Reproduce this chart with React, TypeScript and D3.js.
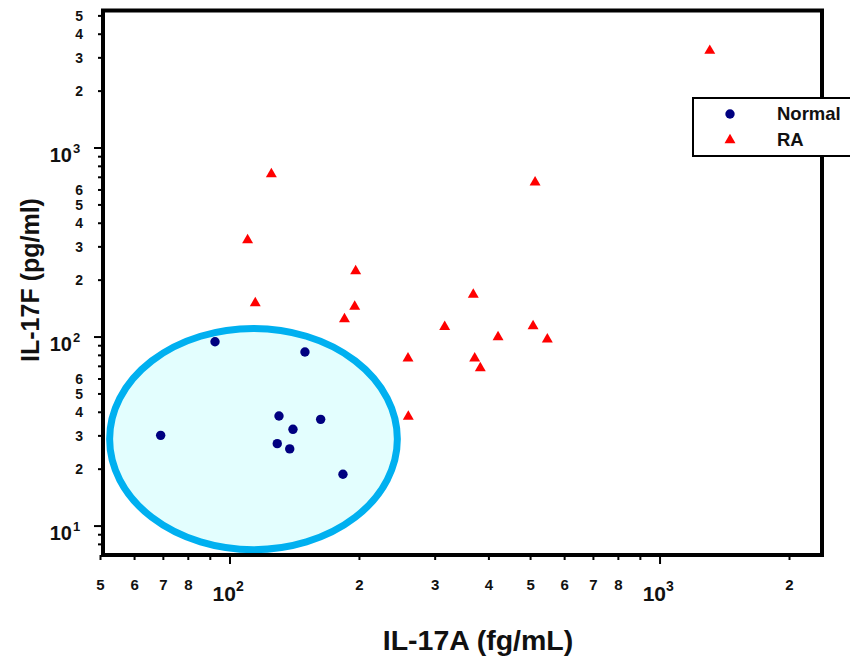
import React from "react";
import * as d3 from "d3";

const normalX = [69.0, 92.3, 149.4, 130.0, 162.5, 140.1, 128.8, 137.7, 183.1];
const normalY = [30.2, 94.4, 83.3, 38.2, 36.7, 32.5, 27.3, 25.6, 18.8];

const raX = [1305, 124.8, 512.2, 109.9, 196.0, 114.5, 195.0, 367.9, 184.6, 315.7, 506.7, 420.1, 546.9, 259.4, 370.7, 382.0, 259.8];
const raY = [3272, 728.7, 658.5, 326, 223.5, 151.3, 145, 167.9, 124.5, 113.4, 114.3, 100, 97.2, 77.2, 77.2, 68.5, 38.0];

const xMinorTicks = [50, 60, 70, 80, 90, 200, 300, 400, 500, 600, 700, 800, 900, 2000];
const xMinorLabels = ["5", "6", "7", "8", "", "2", "3", "4", "5", "6", "7", "8", "", "2"];
const xMajorTicks = [100, 1000];
const xMajorExp = ["2", "3"];

const yMinorTicks = [8, 9, 20, 30, 40, 50, 60, 70, 80, 90, 200, 300, 400, 500, 600, 700, 800, 900, 2000, 3000, 4000, 5000];
const yMinorLabels = ["", "", "2", "3", "4", "5", "6", "", "", "", "2", "3", "4", "5", "6", "", "", "", "2", "3", "4", "5"];
const yMajorTicks = [10, 100, 1000];
const yMajorExp = ["1", "2", "3"];

const ellipseBounds = { x0: 52.5, x1: 245, y0: 7.5, y1: 111 };

const X_DOMAIN = [50.4, 2380];
const Y_DOMAIN = [7.03, 5340];

const FONT = "'Liberation Sans', Arial, Helvetica, sans-serif";

export default function App() {
  const left = 102, right = 822, top = 10.5, bottom = 555;
  const x = d3.scaleLog().domain(X_DOMAIN).range([left, right]);
  const y = d3.scaleLog().domain(Y_DOMAIN).range([bottom, top]);
  const tri = d3.symbol().type(d3.symbolTriangle).size(52)() as string;

  const ex0 = x(ellipseBounds.x0), ex1 = x(ellipseBounds.x1);
  const ey0 = y(ellipseBounds.y0), ey1 = y(ellipseBounds.y1);

  return (
    <svg width={850} height={657} style={{ position: "absolute", left: 0, top: 0, background: "#fff" }} fontFamily={FONT}>
      <rect x={0} y={0} width={850} height={657} fill="#fff" />
      <ellipse
        cx={(ex0 + ex1) / 2}
        cy={(ey0 + ey1) / 2}
        rx={Math.abs(ex1 - ex0) / 2}
        ry={Math.abs(ey0 - ey1) / 2}
        fill="#E3FEFE"
        stroke="#00B0F0"
        strokeWidth={7}
      />
      {raX.map((v, i) => (
        <path key={"ra" + i} d={tri} transform={`translate(${x(v)},${y(raY[i])})`} fill="#FF0000" />
      ))}
      {normalX.map((v, i) => (
        <circle key={"n" + i} cx={x(v)} cy={y(normalY[i])} r={4.7} fill="#000080" />
      ))}

      {/* frame */}
      <rect x={left + 1} y={top} width={right - left - 1} height={bottom - top} fill="none" stroke="#000" strokeWidth={4} />

      {/* x ticks */}
      {xMinorTicks.map((t, i) => (
        <g key={"xm" + i}>
          <line x1={x(t)} x2={x(t)} y1={bottom} y2={bottom + 5} stroke="#000" strokeWidth={2} />
          {xMinorLabels[i] && (
            <text x={x(t)} y={590} textAnchor="middle" fontSize={15} fontWeight="bold" fill="#111">
              {xMinorLabels[i]}
            </text>
          )}
        </g>
      ))}
      {xMajorTicks.map((t, i) => (
        <g key={"xM" + i}>
          <line x1={x(t)} x2={x(t)} y1={bottom} y2={bottom + 9} stroke="#000" strokeWidth={2} />
          <text x={x(t) + 6} y={601} textAnchor="end" fontSize={21} fontWeight="bold" fill="#111">10</text>
          <text x={x(t) + 6} y={591} textAnchor="start" fontSize={14} fontWeight="bold" fill="#111">{xMajorExp[i]}</text>
        </g>
      ))}

      {/* y ticks */}
      {yMinorTicks.map((t, i) => (
        <g key={"ym" + i}>
          <line x1={left - 4} x2={left + 1} y1={y(t)} y2={y(t)} stroke="#000" strokeWidth={2} />
          {yMinorLabels[i] && (
            <text x={83} y={y(t) + 5} textAnchor="end" fontSize={14} fontWeight="bold" fill="#111">
              {yMinorLabels[i]}
            </text>
          )}
        </g>
      ))}
      {yMajorTicks.map((t, i) => (
        <g key={"yM" + i}>
          <line x1={left - 8} x2={left + 1} y1={y(t)} y2={y(t)} stroke="#000" strokeWidth={2} />
          <text x={72} y={y(t) + 14} textAnchor="end" fontSize={20} fontWeight="bold" fill="#111">10</text>
          <text x={73} y={y(t) + 5} textAnchor="start" fontSize={13} fontWeight="bold" fill="#111">{yMajorExp[i]}</text>
        </g>
      ))}

      {/* axis titles */}
      <text x={478} y={650} textAnchor="middle" fontSize={28.5} fontWeight="bold" fill="#111">IL-17A (fg/mL)</text>
      <text transform="translate(39,280) rotate(-90)" textAnchor="middle" fontSize={25} fontWeight="bold" fill="#111">IL-17F (pg/ml)</text>

      {/* legend */}
      <rect x={693} y={98} width={170} height={58} fill="#fff" stroke="#000" strokeWidth={2} />
      <circle cx={730} cy={114} r={4.7} fill="#000080" />
      <path d={tri} transform="translate(730,140)" fill="#FF0000" />
      <text x={777} y={120} fontSize={18.5} fontWeight="bold" fill="#111">Normal</text>
      <text x={777} y={146} fontSize={18.5} fontWeight="bold" fill="#111">RA</text>
    </svg>
  );
}
